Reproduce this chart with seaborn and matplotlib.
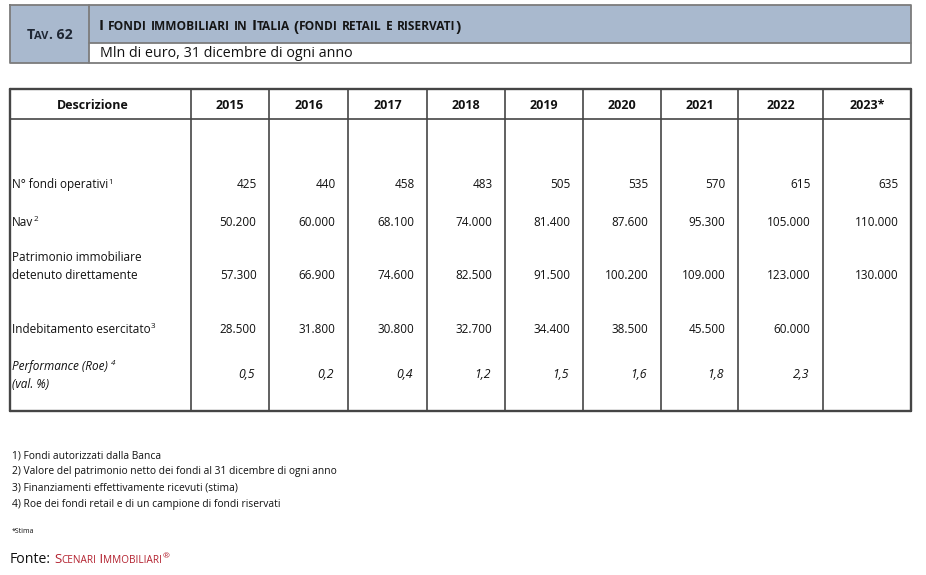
import matplotlib
matplotlib.use('Agg')
import matplotlib.pyplot as plt
import seaborn as sns

# --------------------------------------------------------------------------
# Data
# --------------------------------------------------------------------------
years = ['2015', '2016', '2017', '2018', '2019', '2020', '2021', '2022', '2023*']
n_fondi = [425, 440, 458, 483, 505, 535, 570, 615, 635]
nav = [50200, 60000, 68100, 74000, 81400, 87600, 95300, 105000, 110000]
patrimonio = [57300, 66900, 74600, 82500, 91500, 100200, 109000, 123000, 130000]
indebitamento = [28500, 31800, 30800, 32700, 34400, 38500, 45500, 60000, None]
performance = [0.5, 0.2, 0.4, 1.2, 1.5, 1.6, 1.8, 2.3, None]

footnotes = [
    '1) Fondi autorizzati dalla Banca',
    '2) Valore del patrimonio netto dei fondi al 31 dicembre di ogni anno',
    '3) Finanziamenti effettivamente ricevuti (stima)',
    '4) Roe dei fondi retail e di un campione di fondi riservati',
]

# --------------------------------------------------------------------------
# Style
# --------------------------------------------------------------------------
sns.set_theme(style='white')
plt.rcParams['font.family'] = ['Open Sans', 'DejaVu Sans']

W, H = 926, 575
BLUE = '#a9b9ce'
GRID = '#454545'
BOX = '#7c7c7c'
RED = '#b3212f'
INK = '#111111'
FS = 8.5      # body cells
FSB = 9.0     # bold header row

fig = plt.figure(figsize=(W / 100, H / 100), dpi=100)
ax = fig.add_axes([0, 0, 1, 1])
ax.set_xlim(0, W)
ax.set_ylim(H, 0)
ax.axis('off')
renderer = fig.canvas.get_renderer()


def text_width(s, size, **kw):
    # measure with a trailing bar so spaces count
    t = ax.text(0, 0, s + '|', fontsize=size, **kw)
    b = ax.text(0, 0, '|', fontsize=size, **kw)
    w = t.get_window_extent(renderer).width - b.get_window_extent(renderer).width
    t.remove()
    b.remove()
    return w


def draw_runs(x, y, parts, **kw):
    """Draw consecutive text pieces (text, size, dy) on one baseline."""
    for s, size, dy in parts:
        ax.text(x, y + dy, s, fontsize=size, va='baseline', ha='left', **kw)
        x += text_width(s, size, **kw)
    return x


def small_caps(s, big, small):
    merged = []
    for ch in s:
        p = (ch.upper(), small if ch.islower() else big, 0)
        if merged and merged[-1][1] == p[1]:
            merged[-1] = (merged[-1][0] + p[0], p[1], 0)
        else:
            merged.append(p)
    return merged


def fmt_int(v):
    return f'{v:,}'.replace(',', '.')


def fmt_pct(v):
    return f'{v:.1f}'.replace('.', ',')


# --------------------------------------------------------------------------
# Title block
# --------------------------------------------------------------------------
bx0, bx1, by0, bymid, by1, bdiv = 10, 911, 5, 43, 63, 89
ax.fill_between([bx0, bdiv], by0, by1, color=BLUE, lw=0)
ax.fill_between([bdiv, bx1], by0, bymid, color=BLUE, lw=0)
ax.plot([bx0, bx1, bx1, bx0, bx0], [by0, by0, by1, by1, by0], color=BOX, lw=1.3)
ax.plot([bdiv, bdiv], [by0, by1], color=BOX, lw=1.3)
ax.plot([bdiv, bx1], [bymid, bymid], color=BOX, lw=1.3)

tav_parts = small_caps('Tav. 62', 10.2, 8.0)
tw = sum(text_width(s, sz, fontweight='bold') for s, sz, _ in tav_parts)
draw_runs((bx0 + bdiv) / 2 - tw / 2, 39, tav_parts, fontweight='bold', color='#1e2633')

draw_runs(99, 30.5, small_caps('I fondi immobiliari in Italia (fondi retail e riservati)', 11.0, 8.6),
          fontweight='bold', color='#151515')
ax.text(100, 57, 'Mln di euro, 31 dicembre di ogni anno', fontsize=10.3, va='baseline', color=INK)

# --------------------------------------------------------------------------
# Table
# --------------------------------------------------------------------------
col_edges = [10, 191, 269, 348, 427, 505, 583, 661, 738, 823, 911]
ty0, thead, ty1 = 89, 119, 411

ax.plot([col_edges[0], col_edges[-1]], [ty0, ty0], color=GRID, lw=1.7)
ax.plot([col_edges[0], col_edges[-1]], [ty1, ty1], color=GRID, lw=1.7)
ax.plot([col_edges[0], col_edges[-1]], [thead, thead], color=GRID, lw=1.2)
for i, x in enumerate(col_edges):
    lw = 1.7 if i in (0, len(col_edges) - 1) else 1.2
    ax.plot([x, x], [ty0, ty1], color=GRID, lw=lw)

ax.text(93, 109, 'Descrizione', fontsize=FSB, fontweight='bold',
        ha='center', va='baseline', color=INK)
for i, yr in enumerate(years):
    ax.text((col_edges[i + 1] + col_edges[i + 2]) / 2, 109, yr, fontsize=FSB, fontweight='bold',
            ha='center', va='baseline', color=INK)

lx = 12
sup = 5.8


def label(y, s, note, style='normal', gap=''):
    x = draw_runs(lx, y, [(s + gap, FS, 0)], style=style, color=INK)
    ax.text(x + 0.5, y - 4.8, note, fontsize=sup, va='baseline', style=style, color=INK)


label(188.3, 'N° fondi operativi', '1')
label(225.7, 'Nav', '2')
ax.text(lx, 261, 'Patrimonio immobiliare', fontsize=FS, va='baseline', color=INK)
ax.text(lx, 279, 'detenuto direttamente', fontsize=FS, va='baseline', color=INK)
label(332.7, 'Indebitamento esercitato', '3')
label(370, 'Performance (Roe)', '4', style='italic', gap=' ')
ax.text(lx, 388, '(val. %)', fontsize=FS, va='baseline', style='italic', color=INK)

value_rows = [
    (n_fondi, 188.3),
    (nav, 225.7),
    (patrimonio, 279),
    (indebitamento, 332.7),
]
for values, y in value_rows:
    for i, v in enumerate(values):
        if v is None:
            continue
        ax.text(col_edges[i + 2] - 12.5, y, fmt_int(v), fontsize=FS, ha='right',
                va='baseline', color=INK)
for i, v in enumerate(performance):
    if v is None:
        continue
    ax.text(col_edges[i + 2] - 14, 378, fmt_pct(v), fontsize=FS + 0.3, ha='right', va='baseline',
            style='italic', color=INK)

# --------------------------------------------------------------------------
# Notes and source
# --------------------------------------------------------------------------
for k, note in enumerate(footnotes):
    ax.text(12, 458.3 + 16.1 * k, note, fontsize=7.4, va='baseline', color=INK)
ax.text(12, 532.7, '*Stima', fontsize=5.0, va='baseline', color=INK)

x = draw_runs(10, 563.3, [('Fonte:', 10.2, 0)], color=INK)
x = draw_runs(x + 3, 563.3, small_caps('Scenari Immobiliari', 9.6, 7.2), color=RED)
ax.text(x + 0.5, 558, '®', fontsize=6, va='baseline', color=RED)

fig.savefig('out.png', dpi=100)
